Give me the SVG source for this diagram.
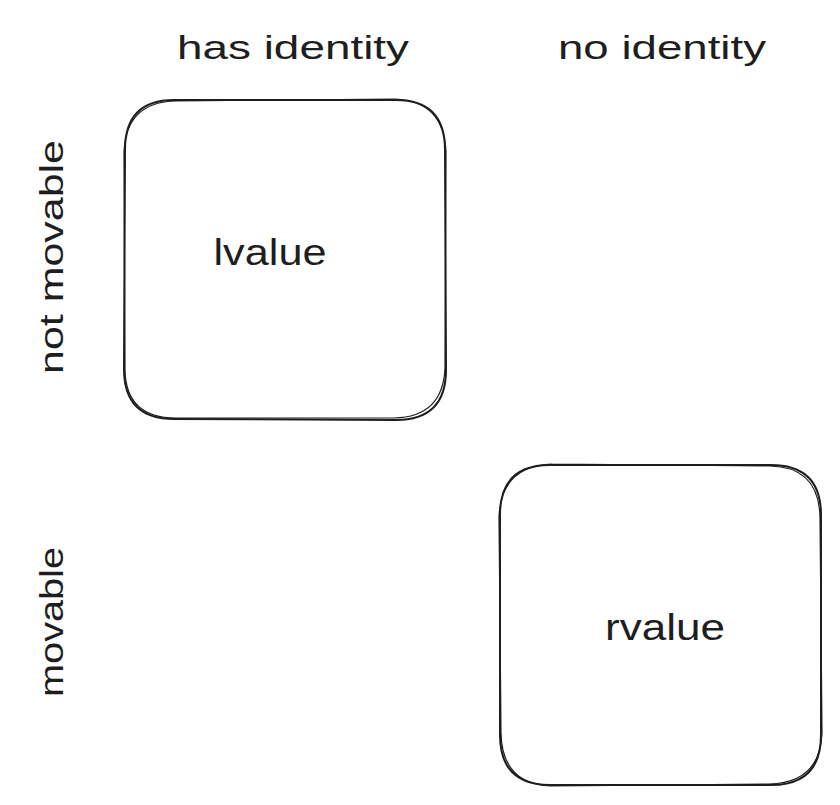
<svg xmlns="http://www.w3.org/2000/svg" width="840" height="805" viewBox="0 0 840 805">
<style>
.t{font-family:"Liberation Sans","DejaVu Sans",sans-serif;fill:#1e1e1e;}
.box{fill:none;stroke:#1e1e1e;stroke-width:2;stroke-linecap:round;}
.box2{fill:none;stroke:#1e1e1e;stroke-width:1.2;stroke-linecap:round;}
</style>
<rect width="840" height="805" fill="#ffffff"/>
<g id="header-has">
<text class="t" x="293" y="59" font-size="34" text-anchor="middle" textLength="232" lengthAdjust="spacingAndGlyphs">has identity</text>
</g>
<g id="header-no">
<text class="t" x="662" y="59" font-size="34" text-anchor="middle" textLength="208" lengthAdjust="spacingAndGlyphs">no identity</text>
</g>
<g id="row-not-movable">
<text class="t" transform="translate(63,257) rotate(-90)" x="0" y="0" font-size="34" text-anchor="middle" textLength="234" lengthAdjust="spacingAndGlyphs">not movable</text>
</g>
<g id="row-movable">
<text class="t" transform="translate(63,622) rotate(-90)" x="0" y="0" font-size="34" text-anchor="middle" textLength="150" lengthAdjust="spacingAndGlyphs">movable</text>
</g>
<g id="lvalue">
<path class="box" d="M174 100 L396 100 Q445 100 445 150 L446 370 Q446 420 396 420 L174 419 Q124 419 124 369 L125 150 Q125 100 174 100 Z"/>
<path class="box2" d="M176 101 L395 99 Q444 101 446 152 L445 368 Q443 417 394 418 L176 418 Q126 418 125 370 L124 152 Q126 102 176 101"/>
<text class="t" x="270" y="265" font-size="36" text-anchor="middle" textLength="113" lengthAdjust="spacingAndGlyphs">lvalue</text>
</g>
<g id="rvalue">
<path class="box" d="M550 465 L771 465 Q821 465 821 515 L821 735 Q821 785 771 785 L550 785 Q500 785 500 735 L500 515 Q500 465 550 465 Z"/>
<path class="box2" d="M552 464 L770 466 Q819 467 820 517 L822 733 Q820 783 769 784 L551 786 Q502 784 501 733 L499 517 Q501 466 552 464"/>
<text class="t" x="665" y="640" font-size="36" text-anchor="middle" textLength="120" lengthAdjust="spacingAndGlyphs">rvalue</text>
</g>
<g id="connectors"></g>
</svg>
